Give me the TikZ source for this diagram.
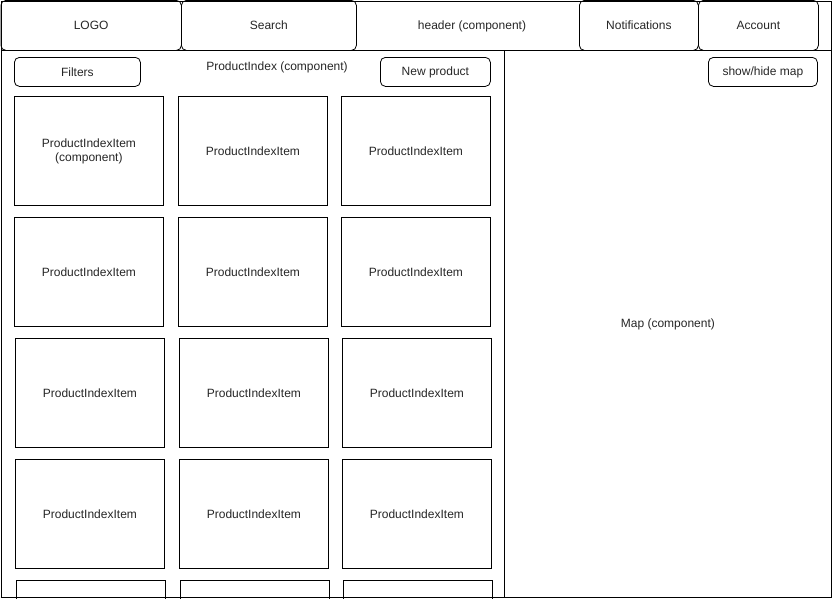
\documentclass[tikz,border=0pt]{standalone}
\usepackage{fontspec}
\setmainfont{Liberation Sans}
\usetikzlibrary{positioning}

\begin{document}
\begin{tikzpicture}[
    x=1pt, y=-1pt,
    txt/.style    = {font=\fontsize{12}{14}\selectfont, text=black!85,
                     inner sep=0pt, align=center},
    frame/.style  = {rectangle, draw, line width=0.8pt, anchor=north west,
                     inner sep=0pt},
    hbox/.style   = {frame, txt, rounded corners=5pt, minimum height=50pt},
    btn/.style    = {frame, txt, rounded corners=5pt, minimum height=29pt},
    item/.style   = {frame, txt, minimum width=149pt, minimum height=109pt}
]
\useasboundingbox (0,0) rectangle (832,598);
\clip (0,0) rectangle (832,598);

% ========= frames =========
\node[frame, minimum width=830.5pt, minimum height=49.5pt] (header) at (0.5,0.5) {};
\node[frame, minimum width=503.5pt, minimum height=547pt]  (index)  at (0.5,50) {};
\node[frame, minimum width=327pt,   minimum height=547pt]  (map)    at (504,50) {};

% ========= header =========
\node[hbox, minimum width=180.5pt] (logo)   at (0.5,0) {LOGO};
\node[hbox, minimum width=175pt]   (search) at (181,0) {Search};
\node[hbox, minimum width=119pt]   (notif)  at (579,0) {Notifications};
\node[hbox, minimum width=120pt]   (acct)   at (698,0) {Account};
\node[txt] (hlabel) at (472,26.5) {header (component)};

% ========= product index =========
\node[btn, minimum width=126pt] (filters) at (14,57)  {Filters};
\node[btn, minimum width=110pt] (newprod) at (380,57) {New product};
\node[txt] (ilabel) at (277,67.5) {ProductIndex (component)};

\node[item] (i11) at (14,96)   {ProductIndexItem\\(component)};
\node[item] (i12) at (178,96)  {ProductIndexItem};
\node[item] (i13) at (341,96)  {ProductIndexItem};

\node[item] (i21) at (14,217)  {ProductIndexItem};
\node[item] (i22) at (178,217) {ProductIndexItem};
\node[item] (i23) at (341,217) {ProductIndexItem};

\node[item] (i31) at (15,338)  {ProductIndexItem};
\node[item] (i32) at (179,338) {ProductIndexItem};
\node[item] (i33) at (342,338) {ProductIndexItem};

\node[item] (i41) at (15,459)  {ProductIndexItem};
\node[item] (i42) at (179,459) {ProductIndexItem};
\node[item] (i43) at (342,459) {ProductIndexItem};

% last row is cut by the page edge
\node[item] (i51) at (16,580)  {};
\node[item] (i52) at (180,580) {};
\node[item] (i53) at (343,580) {};
\draw[line width=0.8pt] (index.south west) -- (map.south east);

% ========= map =========
\node[btn, minimum width=109pt] (toggle) at (708,57) {show/hide map};
\node[txt] (mlabel) at (map.center) {Map (component)};
\end{tikzpicture}
\end{document}
